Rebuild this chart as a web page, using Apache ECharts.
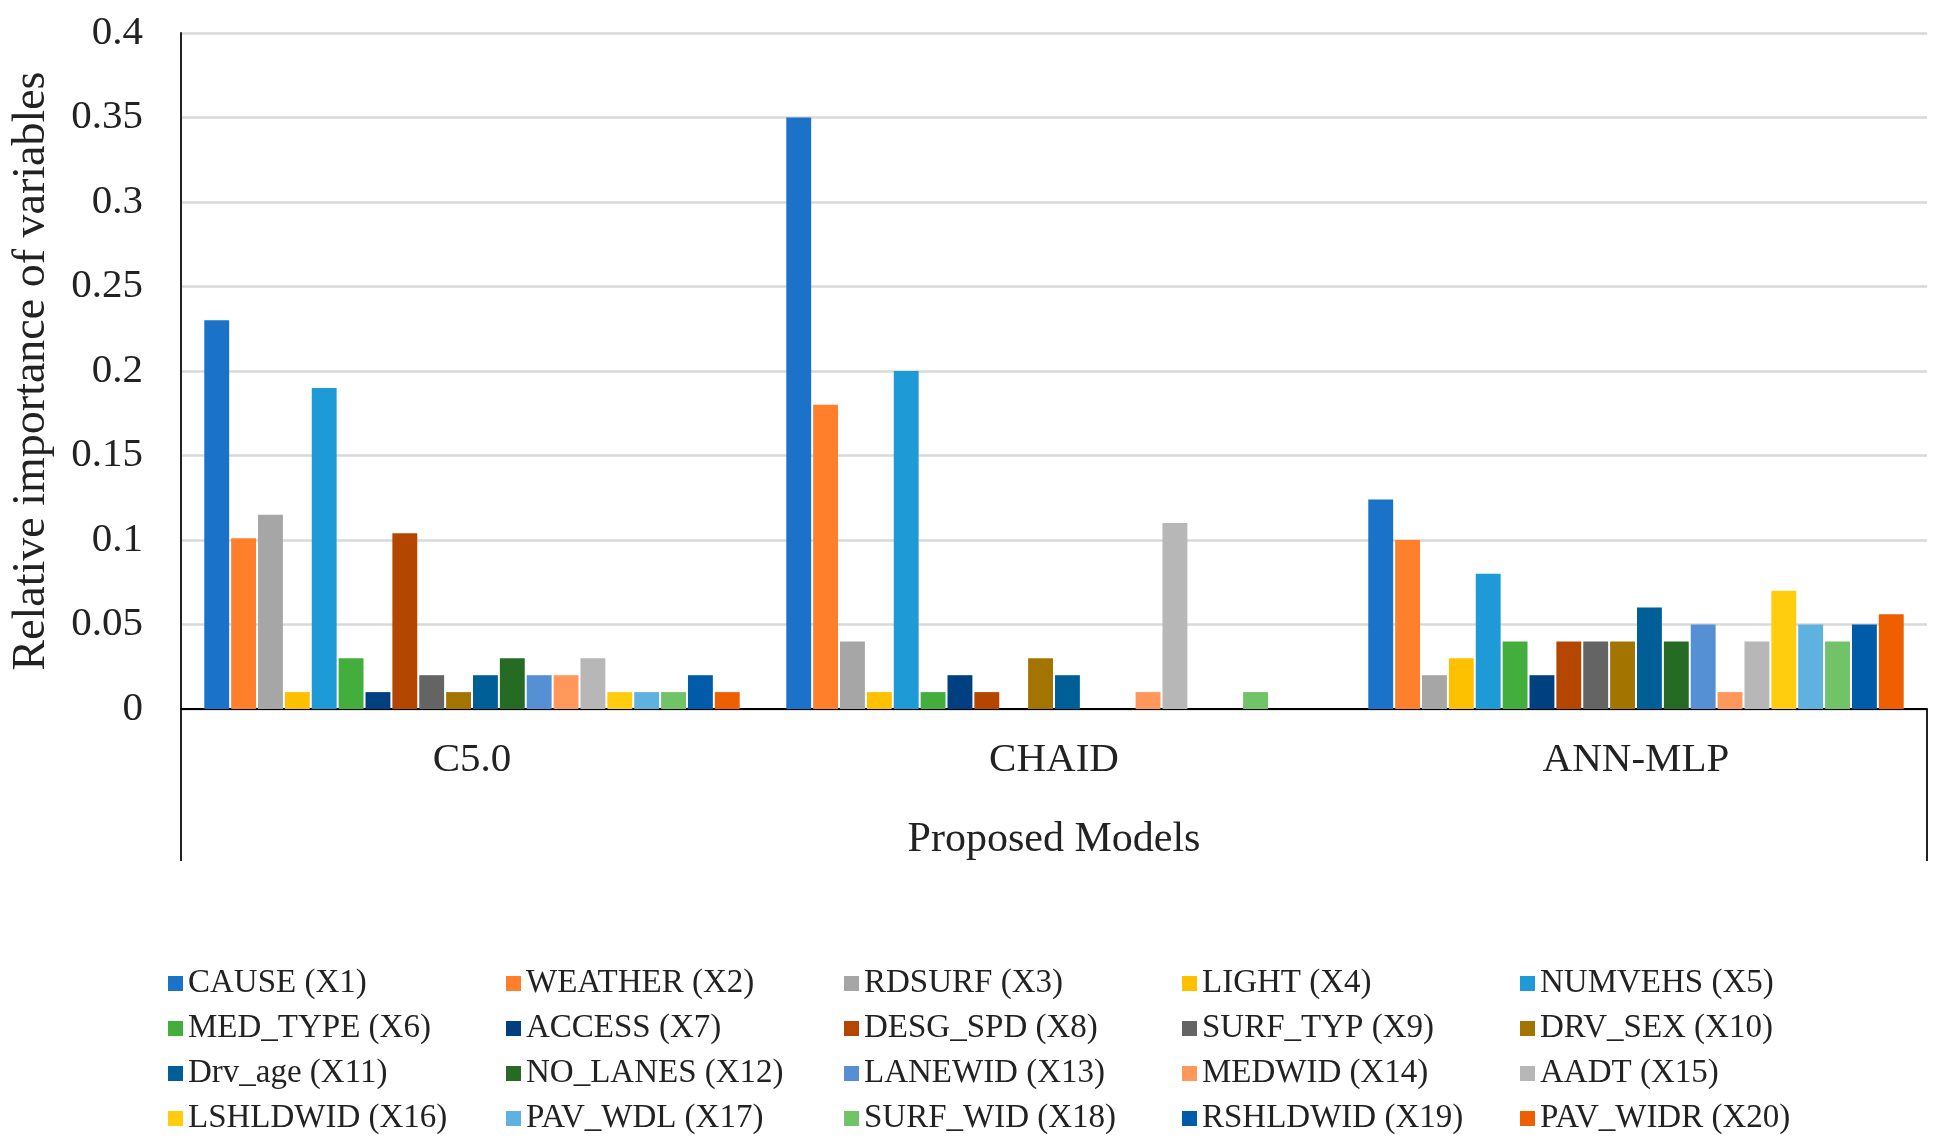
<!DOCTYPE html>
<html><head><meta charset="utf-8">
<script src="https://cdn.jsdelivr.net/npm/echarts@6/dist/echarts.min.js"></script>
<style>html,body{margin:0;padding:0;background:#fff}#c{width:1943px;height:1147px}</style>
</head><body><div id="c"></div>
<script>
const categories = ['C5.0', 'CHAID', 'ANN-MLP'];
const yTicks = [0, 0.05, 0.1, 0.15, 0.2, 0.25, 0.3, 0.35, 0.4];
const seriesNames = ['CAUSE (X1)','WEATHER (X2)','RDSURF (X3)','LIGHT (X4)','NUMVEHS (X5)',
  'MED_TYPE (X6)','ACCESS (X7)','DESG_SPD (X8)','SURF_TYP (X9)','DRV_SEX (X10)',
  'Drv_age (X11)','NO_LANES (X12)','LANEWID (X13)','MEDWID (X14)','AADT (X15)',
  'LSHLDWID (X16)','PAV_WDL (X17)','SURF_WID (X18)','RSHLDWID (X19)','PAV_WIDR (X20)'];
// values per variable: [C5.0, CHAID, ANN-MLP]
const X1 = [0.23, 0.35, 0.124];
const X2 = [0.101, 0.18, 0.1];
const X3 = [0.115, 0.04, 0.02];
const X4 = [0.01, 0.01, 0.03];
const X5 = [0.19, 0.2, 0.08];
const X6 = [0.03, 0.01, 0.04];
const X7 = [0.01, 0.02, 0.02];
const X8 = [0.104, 0.01, 0.04];
const X9 = [0.02, 0, 0.04];
const X10 = [0.01, 0.03, 0.04];
const X11 = [0.02, 0.02, 0.06];
const X12 = [0.03, 0, 0.04];
const X13 = [0.02, 0, 0.05];
const X14 = [0.02, 0.01, 0.01];
const X15 = [0.03, 0.11, 0.04];
const X16 = [0.01, 0, 0.07];
const X17 = [0.01, 0, 0.05];
const X18 = [0.01, 0.01, 0.04];
const X19 = [0.02, 0, 0.05];
const X20 = [0.01, 0, 0.056];
const values = [X1,X2,X3,X4,X5,X6,X7,X8,X9,X10,X11,X12,X13,X14,X15,X16,X17,X18,X19,X20];
const colors = ['#1a73c9','#ff7f2a','#a6a6a6','#ffc000','#1e9bd7','#44ae3c','#004080','#b54600',
  '#646464','#a47400','#005f96','#266b24','#5590d5','#ff985a','#b7b7b7','#ffcd0d','#5fb1e0',
  '#70c366','#005ca8','#ee5f00'];

const FONT = 'Liberation Serif';
const G = {left: 181, right: 16, top: 33, bottom: 438};
const chart = echarts.init(document.getElementById('c'));
chart.setOption({
  animation: false,
  backgroundColor: '#fff',
  color: colors,
  grid: {left: G.left, right: G.right, top: G.top, bottom: G.bottom, containLabel: false, outerBoundsMode: 'none'},
  legend: {
    left: 163, top: 956, width: 1700, itemGap: 0, itemWidth: 15, itemHeight: 15,
    icon: 'rect',
    textStyle: {fontFamily: FONT, fontSize: 33, color: '#222', width: 318, lineHeight: 45}
  },
  xAxis: {
    type: 'category', data: categories,
    axisLine: {lineStyle: {color: '#000', width: 2}},
    axisTick: {show: false},
    axisLabel: {fontFamily: FONT, fontSize: 41, color: '#222', margin: 31},
    name: 'Proposed Models', nameLocation: 'middle', nameGap: 110,
    nameTextStyle: {fontFamily: FONT, fontSize: 42, color: '#222'}
  },
  yAxis: {
    type: 'value', min: 0, max: 0.4, interval: 0.05,
    axisLine: {show: true, lineStyle: {color: '#222', width: 2}},
    axisTick: {show: false},
    splitLine: {lineStyle: {color: '#d9d9d9', width: 2.5}},
    axisLabel: {fontFamily: FONT, fontSize: 41, color: '#222', margin: 38,
      formatter: v => String(+v.toFixed(2))},
    name: 'Relative importance of variables', nameLocation: 'middle', nameGap: 126,
    nameTextStyle: {fontFamily: FONT, fontSize: 46, color: '#222'}
  },
  series: seriesNames.map((n, i) => ({
    name: n, type: 'bar', data: values[i],
    barGap: '8%', barCategoryGap: '8%',
    itemStyle: {color: colors[i]}
  }))
});
// bottom box: extend left and right edges below the axis
const H = 1147, W = 1943;
const yBottomAxis = H - G.bottom;
chart.setOption({graphic: [
  {type: 'line', shape: {x1: G.left, y1: yBottomAxis, x2: G.left, y2: 861}, style: {stroke: '#222', lineWidth: 2}},
  {type: 'line', shape: {x1: W - G.right, y1: yBottomAxis, x2: W - G.right, y2: 861}, style: {stroke: '#222', lineWidth: 2}}
]});
</script></body></html>
